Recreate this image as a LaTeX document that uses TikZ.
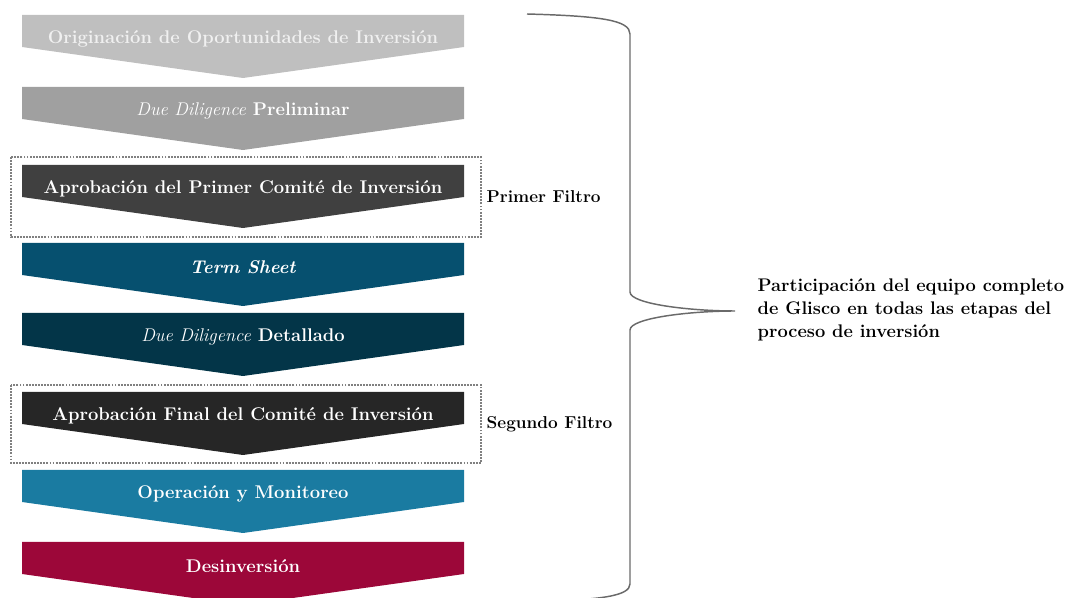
\documentclass[tikz,border=0pt]{standalone}
\usepackage{tikz}
\usetikzlibrary{positioning}
\definecolor{grisclaro}{HTML}{BFBFBF}
\definecolor{grismedio}{HTML}{A0A0A0}
\definecolor{grisoscuro}{HTML}{404040}
\definecolor{azulterm}{HTML}{06506F}
\definecolor{azulnoche}{HTML}{033548}
\definecolor{negrofinal}{HTML}{262626}
\definecolor{azulclaro}{HTML}{1A7BA1}
\definecolor{carmin}{HTML}{9C0739}
\definecolor{llave}{HTML}{6A6A6A}
\tikzset{
  etapa/.style={text=white,font=\fontsize{13.8}{16}\selectfont\bfseries},
  filtro/.style={draw=gray,line width=0.8pt,dash pattern=on 1.4pt off 0.9pt},
  rotulo/.style={anchor=west,font=\fontsize{12.9}{15}\selectfont\bfseries}
}
% chevron: name, top, colour, text
\newcommand{\etapa}[4]{%
  \fill[#3] (22,#2) -- (464,#2) -- (464,#2+32) -- (243,#2+63) -- (22,#2+32) -- cycle;
  \node[etapa] (#1) at (243,#2+24) {#4};
}

\begin{document}
\begin{tikzpicture}[x=0.75pt,y=-0.75pt]
\useasboundingbox (0,0) rectangle (1065,598);

\draw[filtro] (11,157) rectangle (481,237);
\draw[filtro] (11,385) rectangle (481,463);

\etapa{orig}{15}{grisclaro}{\color{white!94!black}Originación de Oportunidades de Inversión}
\etapa{ddp}{87}{grismedio}{\textit{\mdseries Due Diligence} Preliminar}
\etapa{apr1}{165}{grisoscuro}{Aprobación del Primer Comité de Inversión}
\etapa{term}{243}{azulterm}{\textit{Term Sheet}}
\etapa{ddd}{313}{azulnoche}{\textit{\mdseries Due Diligence} Detallado}
\etapa{apr2}{392}{negrofinal}{Aprobación Final del Comité de Inversión}
\etapa{oper}{470}{azulclaro}{Operación y Monitoreo}
\etapa{desi}{542}{carmin}{Desinversión}

\node[rotulo] (f1) at (482,197) {Primer Filtro};
\node[rotulo] (f2) at (482,424) {Segundo Filtro};

% brace
\coordinate (punta) at (735,311);
\draw[llave,line width=1.1pt] (527,14) .. controls (600,16) and (630,20) .. (630,34)
  -- (630,292) .. controls (630,304) and (690,311) .. (punta)
  .. controls (690,311) and (630,318) .. (630,330)
  -- (630,584) .. controls (630,596) and (600,600) .. (540,601);

\node[rotulo,align=left,font=\fontsize{13.7}{17}\selectfont\bfseries] (part) at (753,310)
  {Participación del equipo completo\\de Glisco en todas las etapas del\\proceso de inversión};
\end{tikzpicture}
\end{document}
